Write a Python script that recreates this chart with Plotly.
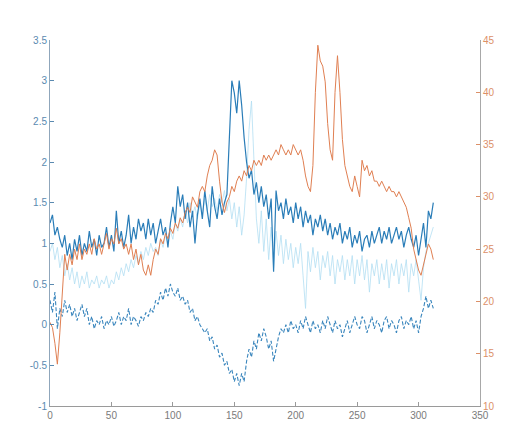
import plotly.graph_objects as go

x_vals = list(range(0, 313, 2))

blue_solid = [1.25,1.35,1.1,1.2,1.05,0.95,1.1,0.85,1.0,0.8,1.05,0.9,1.1,0.85,1.0,0.9,1.15,0.95,1.05,0.85,
              1.1,0.95,1.0,1.2,0.95,1.1,0.9,1.4,1.0,1.15,0.95,1.1,1.35,1.0,1.2,1.05,1.3,1.15,1.25,1.05,
              1.3,1.1,1.25,1.0,1.15,1.3,1.1,1.2,0.95,1.25,1.45,1.25,1.7,1.45,1.6,1.3,1.5,1.2,1.4,1.0,
              1.35,1.55,1.3,1.65,1.4,1.2,1.7,1.45,1.3,1.55,1.35,1.5,1.6,2.3,3.0,2.85,2.6,3.0,2.7,2.3,
              2.0,1.8,1.9,1.6,1.75,1.5,1.7,1.45,1.6,1.3,1.55,0.65,1.65,1.4,1.5,1.3,1.55,1.35,1.45,1.25,
              1.5,1.3,1.45,1.2,1.4,1.25,1.35,1.1,1.3,1.2,1.35,1.15,1.3,1.1,1.25,1.05,1.2,1.1,1.25,1.0,
              1.15,1.05,1.2,0.95,1.1,1.0,1.15,0.9,1.05,1.1,0.95,1.15,1.0,1.1,1.2,1.0,1.15,1.05,1.2,1.0,
              1.1,1.2,1.05,1.15,0.95,1.1,1.2,1.05,0.95,1.1,0.85,1.05,1.25,0.95,1.4,1.3,1.5]

blue_dashed = [0.3,0.15,0.4,-0.05,0.2,0.1,0.3,0.15,0.25,0.1,0.2,0.05,0.15,0.25,0.1,0.2,0.0,0.1,-0.05,0.05,
               0.0,0.1,-0.05,0.05,0.0,0.1,-0.02,0.05,0.15,0.0,0.1,0.05,0.2,0.0,0.1,0.05,-0.02,0.1,0.05,0.15,
               0.1,0.2,0.15,0.3,0.25,0.4,0.3,0.45,0.35,0.5,0.4,0.35,0.45,0.3,0.35,0.25,0.3,0.15,0.2,0.05,
               0.1,0.0,-0.05,-0.1,-0.05,-0.2,-0.15,-0.3,-0.25,-0.4,-0.35,-0.5,-0.45,-0.6,-0.55,-0.7,-0.6,-0.75,-0.6,-0.7,
               -0.45,-0.3,-0.4,-0.2,-0.3,-0.1,-0.2,-0.05,-0.15,-0.3,-0.2,-0.45,-0.3,-0.15,-0.05,-0.1,0.0,-0.1,0.05,-0.05,
               0.0,-0.1,0.05,-0.05,0.1,0.0,-0.1,0.05,-0.05,0.0,-0.1,0.05,-0.05,0.1,0.0,-0.1,0.05,-0.05,0.0,-0.15,
               -0.05,0.05,-0.1,0.0,0.1,0.0,-0.05,0.1,0.05,-0.1,0.0,0.1,-0.05,0.05,0.0,-0.1,0.05,0.1,-0.05,0.05,
               0.0,-0.1,0.05,0.1,-0.05,0.05,0.0,0.1,-0.05,0.05,-0.1,0.1,0.2,0.35,0.2,0.3,0.2]

light_blue = [0.9,1.0,0.8,0.95,0.7,0.85,0.6,0.75,0.55,0.7,0.5,0.65,0.45,0.6,0.5,0.65,0.45,0.55,0.5,0.6,
              0.45,0.55,0.5,0.6,0.45,0.55,0.5,0.65,0.55,0.7,0.6,0.75,0.65,0.8,0.7,0.85,0.75,0.9,0.8,0.95,
              0.85,1.0,0.9,0.95,0.85,1.05,0.95,1.1,1.0,1.15,1.05,1.25,1.15,1.3,1.2,1.4,1.25,1.5,1.35,1.45,
              1.3,1.5,1.35,1.55,1.4,1.6,1.45,1.55,1.4,1.6,1.5,1.65,1.4,1.55,1.3,1.5,1.2,1.45,1.1,1.35,
              1.8,2.4,2.75,1.9,1.3,1.0,1.4,0.9,1.3,0.8,1.2,0.7,1.15,0.85,1.1,0.75,1.05,0.8,1.0,0.7,
              0.95,0.75,1.0,0.6,0.2,0.9,0.65,0.95,0.7,0.9,0.55,0.85,0.7,0.9,0.6,0.85,0.5,0.8,0.65,0.85,
              0.55,0.8,0.6,0.85,0.5,0.8,0.6,0.85,0.55,0.8,0.4,0.75,0.6,0.8,0.5,0.75,0.55,0.8,0.45,0.75,
              0.6,0.8,0.5,0.75,0.6,0.8,0.4,0.75,0.6,0.8,0.55,0.3,0.7,0.9,1.0,1.1,1.2]

orange = [18,17.5,16,14,17,21,24.5,23,24.5,23.5,25,24,25.5,24,25,24.5,25.5,24.5,26,25,
          25.5,24.5,25.5,26.5,25,26,25.5,27,25.5,26,25,25.5,24.5,25.5,24,25,23.5,24.5,23,22.5,
          23.5,22.5,24,25,24.5,26,25.5,26.5,26,27,26.5,27.5,27,28,27.5,28.5,29,28.5,30,29.5,
          29,30.5,31,30.5,32,33,33.5,34.5,34,31.5,29.5,28.5,29.5,30,31,30.5,31.5,32,31.5,32.5,
          32,33,32.5,33.5,33,33.5,33,34,33.5,34,33.5,34,34.5,34,35,34.5,34,34.5,34,35,
          34.5,34,34.5,33.5,32,31,30.5,33,40,44.5,43,42.5,41,37,34.5,33.5,40,43.5,40,35.5,
          33,32,31,30.5,32,31,30,33.5,32.5,33,32,32.5,31.5,31.5,31,31.5,31,30.5,31,30.5,
          30.5,30,30.5,30,29.5,29,28,27,25,24,23,22.5,23.5,24.5,25.5,25,24]

left_ticks = [-1, -0.5, 0, 0.5, 1, 1.5, 2, 2.5, 3, 3.5]
left_labels = ["-1", "-0.5", "0", "0.5", "1", "1.5", "2", "2.5", "3", "3.5"]
right_ticks = [10, 15, 20, 25, 30, 35, 40, 45]
x_ticks = [0, 50, 100, 150, 200, 250, 300, 350]

LEFT_C = "#5a8ab0"
RIGHT_C = "#dc9068"
FONT = "Liberation Sans, Arial, sans-serif"

fig = go.Figure()
fig.add_trace(go.Scatter(x=x_vals, y=orange, yaxis="y2", mode="lines",
                         line=dict(color="#e07f52", width=1), showlegend=False))
fig.add_trace(go.Scatter(x=x_vals, y=light_blue, mode="lines",
                         line=dict(color="#b3def3", width=0.8), showlegend=False))
fig.add_trace(go.Scatter(x=x_vals, y=blue_dashed, mode="lines",
                         line=dict(color="#3a86bd", width=1.1, dash="4px,2px"), showlegend=False))
fig.add_trace(go.Scatter(x=x_vals, y=blue_solid, mode="lines",
                         line=dict(color="#2a7db8", width=1.2), showlegend=False))

fig.update_layout(
    width=500, height=427,
    margin=dict(l=42, r=28, t=32, b=29),
    paper_bgcolor="white", plot_bgcolor="white",
    font=dict(family=FONT, size=10),
    xaxis=dict(range=[0, 350], tickvals=x_ticks, showgrid=False, zeroline=False,
               showline=True, linecolor="#9a9a9a", linewidth=1, ticks="inside", ticklen=4,
               tickcolor="#9a9a9a", tickfont=dict(color="#7a7a7a", size=10)),
    yaxis=dict(range=[-1, 3.5], tickvals=left_ticks, ticktext=left_labels, showgrid=False,
               zeroline=False, showline=True, linecolor="#8fa6bb", linewidth=1, ticks="inside",
               ticklen=4, tickcolor=LEFT_C, tickfont=dict(color=LEFT_C, size=10)),
    yaxis2=dict(range=[10, 45], tickvals=right_ticks, overlaying="y", side="right",
                showgrid=False, zeroline=False, showline=True, linecolor="#a8a8a8",
                linewidth=1, ticks="inside", ticklen=4, tickcolor=RIGHT_C,
                tickfont=dict(color=RIGHT_C, size=10)),
)

fig.write_html("out.html")
